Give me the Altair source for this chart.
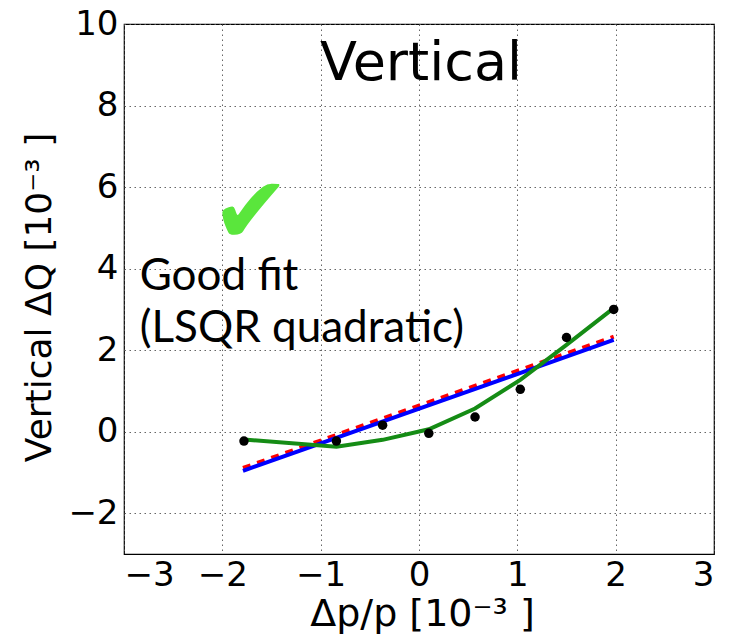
import altair as alt
import pandas as pd

# measured data points
dp = [-1.78, -0.84, -0.37, 0.10, 0.57, 1.03, 1.50, 1.98]
dq = [-0.23, -0.23, 0.16, -0.04, 0.36, 1.04, 2.31, 3.00]
# quadratic fit evaluated at the data points
quad_fit = [-0.19, -0.37, -0.20, 0.06, 0.57, 1.27, 2.13, 3.03]
# linear fits (end points)
lin_x = [-1.79, 1.98]
blue_y = [-0.96, 2.25]
red_y = [-0.89, 2.33]

x_ticks = [-3, -2, -1, 0, 1, 2, 3]
y_ticks = [-2, 0, 2, 4, 6, 8, 10]

pts = pd.DataFrame({"x": dp, "y": dq})
quad = pd.DataFrame({"x": dp, "y": quad_fit})
blue = pd.DataFrame({"x": lin_x, "y": blue_y})
red = pd.DataFrame({"x": lin_x, "y": red_y})

xs = alt.Scale(domain=[-3, 3], nice=False, zero=False)
ys = alt.Scale(domain=[-3, 10], nice=False, zero=False)

common = dict(ticks=False, domain=False, grid=True, gridColor="#555555",
              gridDash=[1.5, 3.5], gridWidth=0.9,
              labelFont="DejaVu Sans", titleFont="DejaVu Sans",
              labelColor="black", titleColor="black", titleFontWeight="normal",
              labelFontSize=34)

x_axis = alt.Axis(values=x_ticks, title="Δp/p [10⁻³ ]",
                  labelPadding=31, labelBaseline="alphabetic",
                  titleFontSize=38,
                  titleX=298, titleY=71, titleBaseline="alphabetic",
                  titleAlign="center", **common)
y_axis = alt.Axis(values=y_ticks, title="Vertical ΔQ [10⁻³ ]",
                  labelPadding=6, titleFontSize=36,
                  titleX=-74, titleY=273, titleAngle=-90,
                  titleBaseline="alphabetic", titleAlign="center", **common)

X = alt.X("x:Q", scale=xs, axis=x_axis)
Y = alt.Y("y:Q", scale=ys, axis=y_axis)

red_l = alt.Chart(red).mark_line(color="#ff0000", strokeWidth=4, strokeDash=[8, 7]).encode(x=X, y=Y)
blue_l = alt.Chart(blue).mark_line(color="#0000ff", strokeWidth=4).encode(x=X, y=Y)
green_l = alt.Chart(quad).mark_line(color="#158c15", strokeWidth=4).encode(x=X, y=Y)
dots = alt.Chart(pts).mark_circle(color="black", size=90, opacity=1).encode(x=X, y=Y)

title_df = pd.DataFrame({"x": [0.02], "y": [8.63], "t": ["Vertical"]})
title_t = alt.Chart(title_df).mark_text(font="DejaVu Sans", fontSize=54, baseline="alphabetic",
                                        align="center", color="black").encode(x=X, y=Y, text="t:N")

check_df = pd.DataFrame({"x": [-1.71], "y": [5.32], "t": ["✔"]})
check_t = alt.Chart(check_df).mark_text(font="DejaVu Sans", fontSize=94, baseline="middle",
                                        align="center", color="#5ae63c").encode(x=X, y=Y, text="t:N")

note_df = pd.DataFrame({"x": [-2.84, -2.84], "y": [3.48, 2.20],
                        "t": ["Good fit", "(LSQR quadratic)"]})
note_t = alt.Chart(note_df).mark_text(font="Lato", fontSize=44, baseline="alphabetic",
                                      align="left", color="black").encode(x=X, y=Y, text="t:N")

chart = alt.layer(red_l, blue_l, green_l, dots, title_t, check_t, note_t).properties(
    width=590, height=530,
    autosize=alt.AutoSizeParams(type="none"),
    padding={"left": 124, "top": 24, "right": 17, "bottom": 81},
    background="white",
).configure_view(stroke="black", strokeWidth=1.2)

chart.save("out.html", embed_options={"renderer": "svg", "actions": False})
